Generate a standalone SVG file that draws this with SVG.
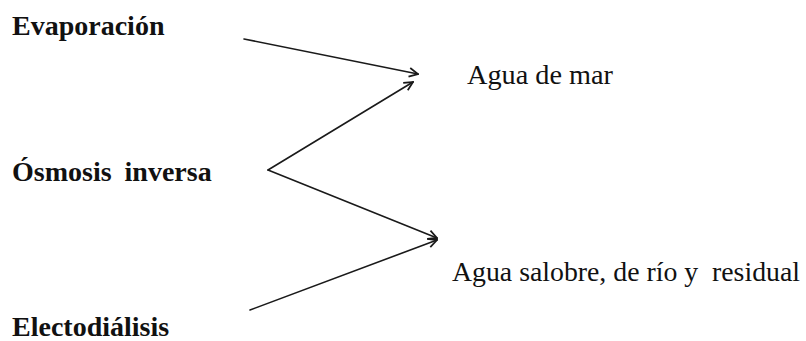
<svg xmlns="http://www.w3.org/2000/svg" width="806" height="341" viewBox="0 0 806 341">
<style>
.src{font-family:'Liberation Serif','Times New Roman',Tinos,'DejaVu Serif',serif;font-size:28px;font-weight:bold;fill:#111}
.dst{font-family:'Liberation Serif','Times New Roman',Tinos,'DejaVu Serif',serif;font-size:28px;fill:#111}
.c{fill:none;stroke:#1a1a1a;stroke-width:1.6;stroke-linecap:round;marker-end:url(#ah)}
</style>
<defs>
<marker id="ah" viewBox="0 0 10 10" refX="9" refY="5" markerWidth="11" markerHeight="11" markerUnits="userSpaceOnUse" orient="auto">
<path d="M1,1 L9,5 L1,9" fill="none" stroke="#1a1a1a" stroke-width="1.6"/>
</marker>
</defs>
<rect width="806" height="341" fill="#fff"/>
<g id="evaporacion"><text class="src" x="12" y="35" font-family="Liberation Serif">Evaporación</text></g>
<g id="osmosis"><text class="src" x="12" y="181" word-spacing="6" font-family="Liberation Serif">Ósmosis inversa</text></g>
<g id="electrodialisis"><text class="src" x="12" y="336" font-family="Liberation Serif">Electodiálisis</text></g>
<g id="agua-mar"><text class="dst" x="467" y="84" textLength="146" lengthAdjust="spacingAndGlyphs" font-family="Liberation Serif">Agua de mar</text></g>
<g id="agua-salobre"><text class="dst" x="452" y="281" textLength="348" lengthAdjust="spacingAndGlyphs" xml:space="preserve" font-family="Liberation Serif">Agua salobre, de río y  residual</text></g>
<g id="connectors">
<path class="c" d="M244,39 L418,74"/>
<path class="c" d="M268,170 L413,82"/>
<path class="c" d="M268,170 L437,238"/>
<path class="c" d="M250,310 L437,240"/>
</g>
</svg>
